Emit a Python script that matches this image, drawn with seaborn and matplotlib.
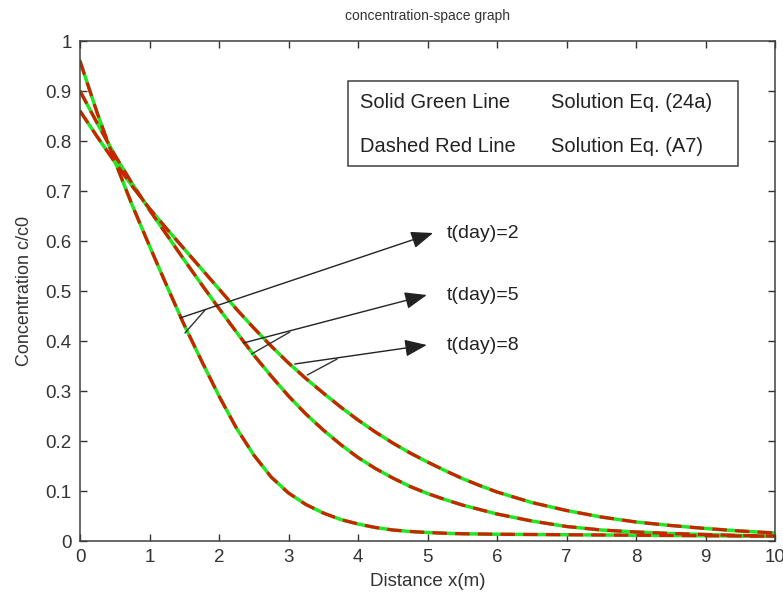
import matplotlib
matplotlib.use("Agg")
import matplotlib.pyplot as plt
import seaborn as sns
import pandas as pd
from matplotlib.patches import Rectangle

# ---- data ----
distance = [0, 0.25, 0.5, 0.75, 1, 1.25, 1.5, 1.75, 2, 2.25, 2.5, 2.75, 3,
            3.25, 3.5, 3.75, 4, 4.25, 4.5, 4.75, 5, 5.25, 5.5, 5.75, 6,
            6.5, 7, 7.5, 8, 8.5, 9, 9.5, 10]
conc_t2 = [0.96, 0.855, 0.76, 0.672, 0.59, 0.51, 0.432, 0.36, 0.29, 0.226, 0.172,
           0.128, 0.096, 0.073, 0.056, 0.043, 0.034, 0.027, 0.022, 0.019, 0.017,
           0.0155, 0.0145, 0.014, 0.0135, 0.013, 0.0125, 0.012, 0.0115, 0.011,
           0.0105, 0.010, 0.0095]
conc_t5 = [0.90, 0.835, 0.772, 0.715, 0.662, 0.612, 0.562, 0.513, 0.465, 0.418, 0.372,
           0.33, 0.29, 0.254, 0.222, 0.193, 0.167, 0.145, 0.126, 0.109, 0.095,
           0.083, 0.072, 0.063, 0.054, 0.040, 0.029, 0.022, 0.018, 0.015, 0.013,
           0.011, 0.010]
conc_t8 = [0.86, 0.808, 0.758, 0.71, 0.665, 0.624, 0.584, 0.544, 0.504, 0.464, 0.426,
           0.39, 0.356, 0.325, 0.296, 0.268, 0.242, 0.218, 0.196, 0.176, 0.158,
           0.141, 0.125, 0.111, 0.098, 0.077, 0.061, 0.048, 0.038, 0.031, 0.025,
           0.020, 0.016]
times = ["t(day)=2", "t(day)=5", "t(day)=8"]
x_ticks = list(range(0, 11))
y_ticks = [0, 0.1, 0.2, 0.3, 0.4, 0.5, 0.6, 0.7, 0.8, 0.9, 1]
y_tick_labels = ["0", "0.1", "0.2", "0.3", "0.4", "0.5", "0.6", "0.7", "0.8", "0.9", "1"]
legend_rows = [("Solid Green Line", "Solution Eq. (24a)"),
               ("Dashed Red Line", "Solution Eq. (A7)")]

# annotation layout (tail, head, branch start, branch end, text pos) in data units
arrow_layout = [
    ((1.44, 0.446), (5.08, 0.616), (1.51, 0.416), (1.80, 0.462), (5.28, 0.616)),
    ((2.35, 0.396), (4.99, 0.492), (2.47, 0.374), (3.02, 0.418), (5.28, 0.492)),
    ((3.09, 0.354), (4.99, 0.392), (3.27, 0.332), (3.70, 0.364), (5.28, 0.392)),
]

df = pd.DataFrame({
    "x": distance * 3,
    "c": conc_t2 + conc_t5 + conc_t8,
    "t": [times[0]] * len(distance) + [times[1]] * len(distance) + [times[2]] * len(distance),
})

sns.set_theme(style="white")
plt.rcParams["font.family"] = ["Liberation Sans", "DejaVu Sans"]

fig = plt.figure(figsize=(7.83, 5.95), dpi=100)
ax = fig.add_axes([80 / 783, 1 - 541 / 595, 695 / 783, 500 / 595])

GREEN = "#22e622"
RED = "#cc2200"
for t in times:
    sub = df[df["t"] == t]
    sns.lineplot(data=sub, x="x", y="c", ax=ax, color=GREEN, linewidth=2.5,
                 estimator=None, sort=False, legend=False)
for t in times:
    sub = df[df["t"] == t]
    sns.lineplot(data=sub, x="x", y="c", ax=ax, color=RED, linewidth=2.3,
                 estimator=None, sort=False, legend=False, linestyle=(0, (4.5, 2.6)))

ax.set_xlim(0, 10)
ax.set_ylim(0, 1)
ax.set_xticks(x_ticks)
ax.set_xticklabels([str(v) for v in x_ticks])
ax.set_yticks(y_ticks)
ax.set_yticklabels(y_tick_labels)
ax.tick_params(direction="in", length=5, width=1, colors="#333333", labelsize=13.5,
               top=True, right=True, bottom=True, left=True)
ax.tick_params(axis="x", pad=6)
ax.tick_params(axis="y", pad=6)
for s in ax.spines.values():
    s.set_color("#404040")
    s.set_linewidth(1.1)
    s.set_visible(True)

ax.set_xlabel("Distance x(m)", fontsize=13.5, color="#333333", labelpad=5)
ax.set_ylabel("Concentration c/c0", fontsize=13, color="#333333", labelpad=9)
ax.set_title("concentration-space graph", fontsize=10, color="#333333", pad=15)

# legend box
ax.add_patch(Rectangle((3.86, 0.75), 5.61, 0.17, fill=False, edgecolor="#404040",
                       linewidth=1.1, zorder=5))
for i, (a, b) in enumerate(legend_rows):
    yy = 0.878 - i * 0.09
    ax.text(4.03, yy, a, fontsize=14.5, color="#222222", va="center", ha="left")
    ax.text(6.78, yy, b, fontsize=14.5, color="#222222", va="center", ha="left")

# arrows
for label, (tail, head, b0, b1, tpos) in zip(times, arrow_layout):
    ax.annotate("", xy=head, xytext=tail,
                arrowprops=dict(arrowstyle="-|>,head_length=0.9,head_width=0.35",
                                color="#222222", lw=1.0, mutation_scale=15,
                                shrinkA=0, shrinkB=0))
    ax.plot([b0[0], b1[0]], [b0[1], b1[1]], color="#333333", lw=1.0)
    ax.text(tpos[0], tpos[1], label, fontsize=14, color="#222222", va="center", ha="left")

fig.savefig("out.png", dpi=100)
